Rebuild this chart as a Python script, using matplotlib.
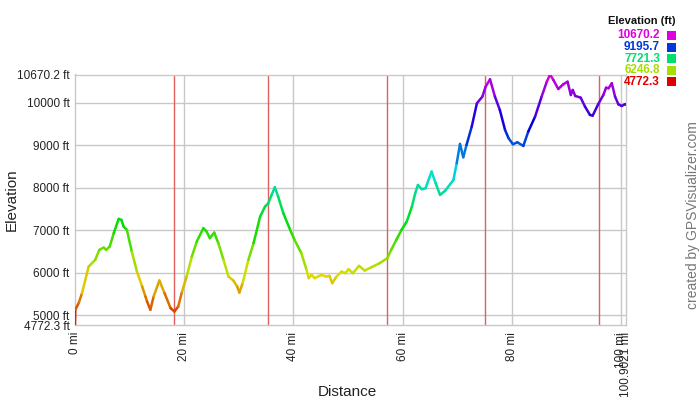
import matplotlib
matplotlib.use("Agg")
import matplotlib.pyplot as plt
import numpy as np
import colorsys
from matplotlib.collections import LineCollection

plt.rcParams['font.family'] = ['Liberation Sans', 'DejaVu Sans']

# ---- data ----
distance_mi = [0, 0.05, 0.67, 1.28, 2.5, 3.7, 4.45, 5.25, 5.7, 6.35, 7.1, 8.0, 8.5, 8.9, 9.5,
               10.4, 11.35, 12.3, 12.9, 13.2, 13.8, 14.4, 15.45, 16.4, 17.5, 18.2, 18.9, 19.6,
               20.45, 21.4, 22.3, 23.5, 24.1, 24.7, 25.5, 26.25, 27.2, 28.1, 29.0, 29.7, 30.1,
               30.7, 31.75, 32.7, 33.9, 34.8, 35.4, 36.0, 36.6, 37.2, 38.15, 39.4, 40.2, 41.45,
               42.4, 42.8, 43.3, 43.9, 45.1, 46.0, 46.6, 47.1, 47.9, 48.8, 49.5, 50.1, 50.9,
               52.0, 53.05, 54.3, 55.8, 57.2, 57.9, 58.85, 59.8, 60.75, 61.7, 62.3, 62.8, 63.5,
               64.2, 65.3, 66.05, 66.85, 67.8, 69.3, 69.9, 70.5, 71.1, 71.7, 72.65, 73.6, 74.6,
               75.2, 76.0, 76.9, 77.8, 78.75, 79.4, 80.2, 81.0, 82.1, 83.0, 84.25, 85.45, 86.4,
               87.0, 87.6, 88.5, 89.4, 90.2, 90.8, 91.15, 91.6, 92.6, 93.4, 94.3, 94.8, 95.8,
               96.75, 97.25, 97.7, 98.3, 98.9, 99.5, 100.1, 100.7, 100.9021]
elevation_ft = [4772.3, 5129, 5287, 5522, 6148, 6306, 6541, 6596, 6541, 6619, 6934, 7271, 7247,
                7090, 7012, 6501, 6030, 5678, 5443, 5325, 5129, 5443, 5819, 5522, 5169, 5090,
                5207, 5560, 5913, 6384, 6737, 7052, 6972, 6816, 6948, 6699, 6306, 5913, 5819,
                5678, 5536, 5757, 6306, 6699, 7325, 7560, 7640, 7835, 8016, 7795, 7404, 7012,
                6777, 6463, 6070, 5875, 5953, 5875, 5953, 5913, 5929, 5757, 5913, 6030, 5993,
                6086, 5993, 6165, 6054, 6134, 6228, 6346, 6541, 6777, 7012, 7207, 7560, 7875,
                8070, 7969, 7993, 8384, 8110, 7835, 7936, 8188, 8581, 9035, 8722, 9012, 9442,
                9993, 10149, 10384, 10557, 10149, 9835, 9365, 9169, 9028, 9075, 8988, 9325,
                9678, 10149, 10501, 10670.2, 10541, 10329, 10439, 10501, 10188, 10306, 10165,
                10125, 9913, 9718, 9702, 9969, 10188, 10360, 10345, 10463, 10149, 9969, 9929,
                9969, 9960]
split_mi = [18.2, 35.4, 57.2, 75.0, 96.0]
x_ticks = [0, 20, 40, 60, 80, 100, 100.9021]
x_labels = ['0 mi', '20 mi', '40 mi', '60 mi', '80 mi', '100 mi', '100.9021 mi']
y_ticks = [4772.3, 5000, 6000, 7000, 8000, 9000, 10000, 10670.2]
y_labels = ['4772.3 ft', '5000 ft', '6000 ft', '7000 ft', '8000 ft', '9000 ft', '10000 ft', '10670.2 ft']
legend_values = [10670.2, 9195.7, 7721.3, 6246.8, 4772.3]

emin, emax = 4772.3, 10670.2


def elev_color(e):
    f = (e - emin) / (emax - emin)
    f = min(max(f, 0), 1)
    return colorsys.hsv_to_rgb(300.0 / 360.0 * f, 1.0, 0.87)


fig = plt.figure(figsize=(7, 4), dpi=100)
ax = fig.add_axes([75 / 700, 1 - 325 / 400, (626 - 75) / 700, (325 - 74.5) / 400])
ax.set_xlim(0, 100.9021)
ax.set_ylim(emin, emax)

grid_c = '#c8c8c8'
for t in [5000, 6000, 7000, 8000, 9000, 10000]:
    ax.axhline(t, color=grid_c, lw=1, zorder=1)
for t in [20, 40, 60, 80, 100]:
    ax.axvline(t, color=grid_c, lw=1, zorder=1)
for s in split_mi:
    ax.axvline(s, color='#e06060', lw=1, zorder=2)

for sp in ax.spines.values():
    sp.set_color(grid_c)
    sp.set_linewidth(1)

x = np.array(distance_mi)
y = np.array(elevation_ft)
pts = np.column_stack([x, y]).reshape(-1, 1, 2)
segs = np.concatenate([pts[:-1], pts[1:]], axis=1)
cols = [elev_color((a + b) / 2) for a, b in zip(y[:-1], y[1:])]
lc = LineCollection(segs, colors=cols, linewidths=1.8, capstyle='round', joinstyle='round', zorder=3)
ax.add_collection(lc)

ax.set_xticks(x_ticks)
ax.set_xticklabels(x_labels, rotation=90, fontsize=8.5, color='#222222')
ax.set_yticks(y_ticks)
ax.set_yticklabels(y_labels, fontsize=8.5, color='#222222')
ax.tick_params(axis='y', length=0, pad=4)
ax.tick_params(axis='x', length=0, pad=5)
ax.set_xlabel('Distance', fontsize=11, color='#222222', va='center')
ax.xaxis.set_label_coords(0.495, -0.268)
ax.set_ylabel('Elevation', fontsize=11, color='#222222', va='center')
ax.yaxis.set_label_coords(-0.114, 0.5)

# legend
fig.text(675 / 700, 1 - 21 / 400, 'Elevation (ft)', ha='right', va='center', fontsize=8,
         fontweight='bold', color='#111111')
for i, v in enumerate(legend_values):
    yy = 35.5 + i * 11.6
    c = elev_color(v)
    fig.text(660 / 700, 1 - yy / 400, f'{v:.1f}', ha='right', va='center', fontsize=8.5,
             fontweight='bold', color=c)
    fig.patches.append(plt.Rectangle((667 / 700, 1 - (yy + 4.5) / 400), 9 / 700, 9 / 400,
                                     transform=fig.transFigure, facecolor=c, edgecolor='none'))

fig.text(693 / 700, 1 - 215 / 400, 'created by GPSVisualizer.com', rotation=90, ha='center',
         va='center', fontsize=10, color='#777777')

fig.savefig('out.png', dpi=100)
